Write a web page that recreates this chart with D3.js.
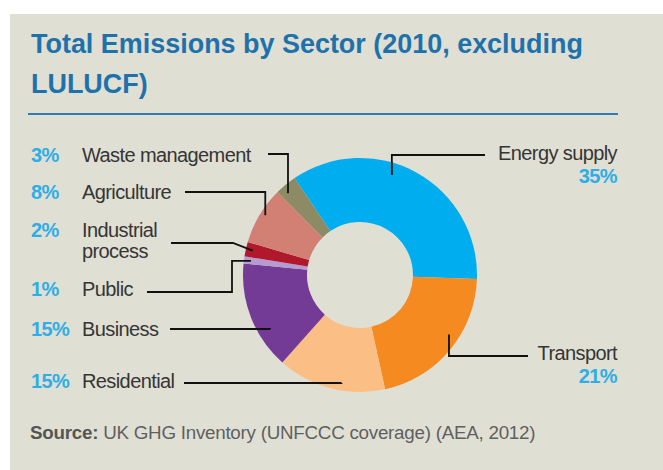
<!DOCTYPE html>
<html>
<head>
<meta charset="utf-8">
<script src="https://cdn.jsdelivr.net/npm/d3@7/dist/d3.min.js"></script>
<style>
  html, body { margin: 0; padding: 0; background: #ffffff; }
  svg { display: block; }
</style>
</head>
<body>
<svg id="chart" width="663" height="470"></svg>
<script>
// Sector shares of total UK greenhouse gas emissions, 2010 (excluding LULUCF)
const sectors = ["Energy supply", "Transport", "Residential", "Business", "Public",
                 "Industrial process", "Agriculture", "Waste management"];
const shares  = [35, 21, 15, 15, 1, 2, 8, 3];
const colours = ["#00adee", "#f58a20", "#fbbf86", "#743b96", "#b59bd2",
                 "#b0182c", "#d27f74", "#8d8a66"];

const titleLines = ["Total Emissions by Sector (2010, excluding", "LULUCF)"];
const sourceLabel = "Source:";
const sourceText = " UK GHG Inventory (UNFCCC coverage) (AEA, 2012)";

// Label layout: side, text lines, baseline, leader start and its route
const labelLayout = {
  "Energy supply":      { side: "right", x: 617, y: 160, lead: [485, 155], t: 0.41, r: 105, route: "hv" },
  "Transport":          { side: "right", x: 617, y: 360, lead: [528, 356], t: 0.42, r: 107, route: "hv" },
  "Residential":        { side: "left",  y: 388, lead: [184, 383], t: 0.41, r: 109.5, route: "hv" },
  "Business":           { side: "left",  y: 336, lead: [170, 329], t: 0.32, r: 105, route: "hv" },
  "Public":             { side: "left",  y: 296, lead: [147, 292], t: 0.5, r: 110, route: "hvh", elbowX: 232 },
  "Industrial process": { side: "left",  y: 237, lines: ["Industrial", "process"], lead: [171, 243], t: 0.5, r: 110, route: "hd", elbowX: 233 },
  "Agriculture":        { side: "left",  y: 199, lead: [185, 192], t: 0.55, r: 112, route: "hv" },
  "Waste management":   { side: "left",  y: 162, lead: [268, 154], t: 0.32, r: 109, route: "hv" }
};

const W = 663, H = 470;
const cx = 360, cy = 275, outerR = 117, innerR = 53;
const startDeg = -34;

const svg = d3.select("#chart");

// panel background
svg.append("rect").attr("x", 10).attr("y", 14).attr("width", W - 10).attr("height", H - 14)
  .attr("fill", "#e0dfd4");

// fit a text element to a target width by scaling its font size
function fitWidth(sel, size, width) {
  sel.attr("font-size", size);
  const w = sel.node().getComputedTextLength();
  const s = size * width / w;
  sel.attr("font-size", s);
  return s;
}

// title
const titleFont = "'Liberation Sans Narrow', 'Arial Narrow', sans-serif";
const title = svg.append("g").attr("fill", "#1d72ab")
  .attr("font-family", titleFont).attr("font-weight", "bold");
const t1 = title.append("text").attr("x", 31).attr("y", 53).text(titleLines[0]);
const titleSize = fitWidth(t1, 28, 552);
title.append("text").attr("x", 31).attr("y", 93).attr("font-size", titleSize).text(titleLines[1]);

svg.append("line").attr("x1", 28).attr("x2", 618).attr("y1", 114).attr("y2", 114)
  .attr("stroke", "#2a7db5").attr("stroke-width", 2);

// donut
const data = sectors.map((s, i) => ({ sector: s, share: shares[i], colour: colours[i] }));
const pie = d3.pie().sort(null).value(d => d.share)
  .startAngle(startDeg * Math.PI / 180)
  .endAngle(startDeg * Math.PI / 180 + 2 * Math.PI);
const arcs = pie(data);
const arc = d3.arc().innerRadius(innerR).outerRadius(outerR);

const donut = svg.append("g").attr("transform", `translate(${cx},${cy})`);
donut.selectAll("path").data(arcs).enter().append("path")
  .attr("d", arc).attr("fill", d => d.data.colour);

// leaders and labels
const labelFont = "'Liberation Sans', Arial, Helvetica, sans-serif";
const textCol = "#353535";
const pctCol = "#2eaee6";
const lab = svg.append("g").attr("font-family", labelFont).attr("font-size", 20)
  .attr("letter-spacing", "-0.6px");
const leaders = svg.append("g").attr("fill", "none").attr("stroke", "#111")
  .attr("stroke-width", 1.8);

arcs.forEach(a => {
  const L = labelLayout[a.data.sector];
  const ang = a.startAngle + L.t * (a.endAngle - a.startAngle);
  const ax = cx + L.r * Math.sin(ang);
  const ay = cy - L.r * Math.cos(ang);
  const [sx, sy] = L.lead;
  const p = d3.path();
  p.moveTo(sx, sy);
  if (L.route === "hv") { p.lineTo(ax, sy); p.lineTo(ax, ay); }
  else if (L.route === "hvh") { p.lineTo(L.elbowX, sy); p.lineTo(L.elbowX, ay); p.lineTo(ax, ay); }
  else if (L.route === "hd") { p.lineTo(L.elbowX, sy); p.lineTo(ax, ay); }
  leaders.append("path").attr("d", p.toString());

  const pct = a.data.share + "%";
  if (L.side === "right") {
    lab.append("text").attr("x", L.x).attr("y", L.y).attr("text-anchor", "end")
      .attr("fill", textCol).text(a.data.sector);
    lab.append("text").attr("x", L.x).attr("y", L.y + 22.5).attr("text-anchor", "end")
      .attr("font-weight", "bold").attr("fill", pctCol).text(pct);
  } else {
    lab.append("text").attr("x", 31).attr("y", L.y).attr("font-weight", "bold")
      .attr("fill", pctCol).text(pct);
    const lines = L.lines || [a.data.sector];
    lines.forEach((ln, i) => {
      lab.append("text").attr("x", 82).attr("y", L.y + i * 21).attr("fill", textCol).text(ln);
    });
  }
});

// source note
const src = svg.append("text").attr("x", 30).attr("y", 439)
  .attr("font-family", labelFont).attr("font-size", 18.8).attr("fill", "#5f5f5f")
  .attr("letter-spacing", "-0.25px");
src.append("tspan").attr("font-weight", "bold").attr("fill", "#555").text(sourceLabel);
src.append("tspan").text(sourceText);
</script>
</body>
</html>
